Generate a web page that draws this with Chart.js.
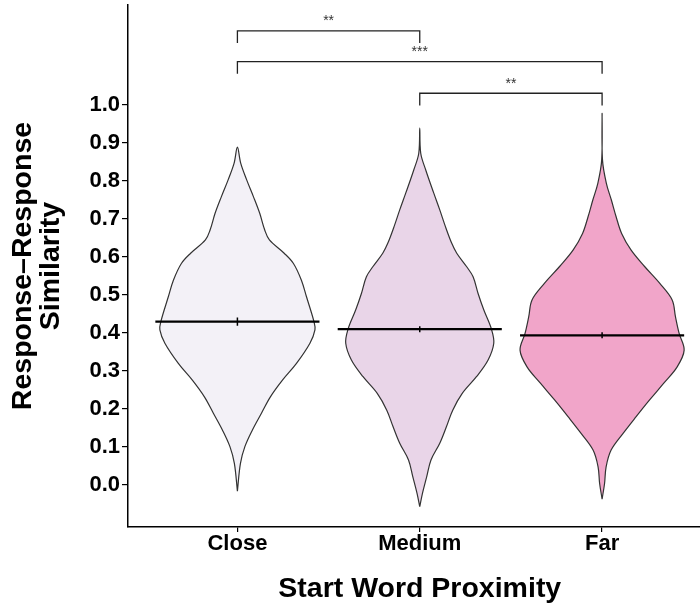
<!DOCTYPE html>
<html>
<head>
<meta charset="utf-8">
<script src="https://cdn.jsdelivr.net/npm/chart.js@4/dist/chart.umd.min.js"></script>
<style>
  html, body { margin: 0; padding: 0; background: #fff; }
  #wrap { width: 700px; height: 604px; }
</style>
</head>
<body>
<div id="wrap"><canvas id="chart" width="700" height="604"></canvas></div>
<script>
// Groups on the x axis
const categories = ['Close', 'Medium', 'Far'];

// Group means and their standard errors
const meanSimilarity = [0.430, 0.410, 0.394];
const meanSE = [0.011, 0.008, 0.008];

// y-axis tick values
const yTicks = [0.0, 0.1, 0.2, 0.3, 0.4, 0.5, 0.6, 0.7, 0.8, 0.9, 1.0];

// Kernel density outlines (similarity value -> relative density), top to bottom
const closeY = [0.889, 0.847, 0.803, 0.759, 0.715, 0.671, 0.645, 0.610, 0.583, 0.539, 0.496, 0.430, 0.408, 0.373, 0.320, 0.276, 0.232, 0.189, 0.145, 0.101, 0.057, -0.016];
const closeDensity = [0, 0.04, 0.113, 0.195, 0.272, 0.333, 0.39, 0.57, 0.683, 0.78, 0.841, 0.933, 0.945, 0.884, 0.72, 0.549, 0.402, 0.293, 0.183, 0.091, 0.037, 0];

const mediumY = [0.939, 0.873, 0.829, 0.768, 0.724, 0.680, 0.636, 0.610, 0.575, 0.548, 0.504, 0.461, 0.410, 0.373, 0.329, 0.285, 0.241, 0.197, 0.154, 0.110, 0.066, 0.022, -0.022, -0.057];
const mediumDensity = [0, 0.012, 0.073, 0.171, 0.244, 0.313, 0.39, 0.451, 0.57, 0.65, 0.711, 0.78, 0.874, 0.902, 0.833, 0.691, 0.518, 0.402, 0.326, 0.244, 0.137, 0.085, 0.033, 0];

const farY = [0.978, 0.855, 0.794, 0.750, 0.706, 0.662, 0.618, 0.575, 0.531, 0.487, 0.443, 0.399, 0.355, 0.311, 0.268, 0.224, 0.180, 0.136, 0.092, 0.048, 0.004, -0.037];
const farDensity = [0, 0.005, 0.052, 0.113, 0.171, 0.238, 0.354, 0.518, 0.701, 0.854, 0.894, 0.939, 1.0, 0.915, 0.752, 0.579, 0.415, 0.256, 0.11, 0.049, 0.03, 0];

// Pairwise significance brackets: group indices (1-based), bracket height, label
const bracketPairs = [[1, 2], [1, 3], [2, 3]];
const bracketTop = [1.195, 1.114, 1.031];
const bracketLabels = ['**', '***', '**'];

const FONT = "'Liberation Sans', Arial, Helvetica, sans-serif";
const HALF_WIDTH = 0.45;      // half of the widest violin, in category units
const LEG = 0.032;            // bracket leg length, in y units
const fills = ['#F3F1F7', '#E9D5E8', '#F1A5C9'];

// Plot panel edges in canvas pixels (the panel runs slightly past the right edge)
const PANEL_TOP = 5;
const PANEL_RIGHT = 711.5;

// Closed outline: right side bottom -> top, then left side top -> bottom
function violinOutline(center, ys, dens) {
  const right = ys.map((y, i) => ({ x: center + dens[i] * HALF_WIDTH, y })).reverse();
  const left = ys.map((y, i) => ({ x: center - dens[i] * HALF_WIDTH, y }));
  return right.concat(left.slice(1));
}

const violinData = [
  [closeY, closeDensity],
  [mediumY, mediumDensity],
  [farY, farDensity]
];

const datasets = [];

violinData.forEach(([ys, dens], i) => {
  datasets.push({
    data: violinOutline(i + 1, ys, dens),
    borderColor: '#333333',
    borderWidth: 1.2,
    backgroundColor: fills[i],
    fill: 'shape',
    tension: 0.35,
    pointRadius: 0,
    order: 3
  });
});

meanSimilarity.forEach((m, i) => {
  const c = i + 1;
  datasets.push({
    data: [{ x: c - HALF_WIDTH, y: m }, { x: c + HALF_WIDTH, y: m }],
    borderColor: '#000',
    borderWidth: 2.2,
    pointRadius: 0,
    fill: false,
    order: 1
  });
  datasets.push({
    data: [{ x: c, y: m - meanSE[i] }, { x: c, y: m + meanSE[i] }],
    borderColor: '#000',
    borderWidth: 1.5,
    pointRadius: 0,
    fill: false,
    order: 0
  });
});

bracketPairs.forEach(([a, b], i) => {
  const top = bracketTop[i];
  datasets.push({
    data: [{ x: a, y: top - LEG }, { x: a, y: top }, { x: b, y: top }, { x: b, y: top - LEG }],
    borderColor: '#222',
    borderWidth: 1.3,
    pointRadius: 0,
    fill: false,
    tension: 0,
    order: 1
  });
});

// Stretch the panel to its fixed edges once the layout is known
const panelEdges = {
  id: 'panelEdges',
  afterLayout(chart) {
    const area = chart.chartArea;
    const { x, y } = chart.scales;
    area.top = PANEL_TOP;
    area.right = PANEL_RIGHT;
    area.width = area.right - area.left;
    area.height = area.bottom - area.top;
    x.right = PANEL_RIGHT;
    x.width = x.right - x.left;
    y.top = PANEL_TOP;
    y.height = y.bottom - y.top;
    x.configure();
    y.configure();
  }
};

// Significance stars above each bracket
const starLabels = {
  id: 'starLabels',
  afterDatasetsDraw(chart) {
    const { ctx, scales: { x, y } } = chart;
    ctx.save();
    ctx.font = `14px ${FONT}`;
    ctx.fillStyle = '#333';
    ctx.textAlign = 'center';
    ctx.textBaseline = 'alphabetic';
    bracketPairs.forEach(([a, b], i) => {
      const px = x.getPixelForValue((a + b) / 2);
      const py = y.getPixelForValue(bracketTop[i]) - 5.5;
      ctx.fillText(bracketLabels[i], px, py);
    });
    ctx.restore();
  }
};

new Chart(document.getElementById('chart'), {
  type: 'line',
  data: { datasets },
  plugins: [panelEdges, starLabels],
  options: {
    responsive: false,
    animation: false,
    devicePixelRatio: 1,
    layout: { padding: 0 },
    plugins: { legend: { display: false }, tooltip: { enabled: false } },
    scales: {
      x: {
        type: 'linear',
        min: 0.4,
        max: 3.6,
        afterBuildTicks: s => { s.ticks = categories.map((_, i) => ({ value: i + 1 })); },
        afterFit: s => { s.height = 77; },
        ticks: {
          callback: v => categories[Math.round(v) - 1] ?? '',
          font: { family: FONT, size: 22, weight: 'bold', lineHeight: 1 },
          color: '#000',
          padding: 1,
          maxRotation: 0,
          autoSkip: false
        },
        grid: { drawOnChartArea: false, drawTicks: true, tickLength: 5, color: '#000', lineWidth: 1.2 },
        border: { display: true, color: '#000', width: 1.5 },
        title: {
          display: true,
          text: 'Start Word Proximity',
          font: { family: FONT, size: 28.5, weight: 'bold', lineHeight: 1 },
          color: '#000',
          padding: { top: 0, bottom: 1 }
        }
      },
      y: {
        type: 'linear',
        min: -0.1105,
        max: 1.2632,
        afterBuildTicks: s => { s.ticks = yTicks.map(v => ({ value: v })); },
        afterFit: s => { s.width = 128; },
        ticks: {
          callback: v => Number(v).toFixed(1),
          font: { family: FONT, size: 22, weight: 'bold', lineHeight: 1 },
          color: '#000',
          padding: 2
        },
        grid: { drawOnChartArea: false, drawTicks: true, tickLength: 6, color: '#000', lineWidth: 1.2 },
        border: { display: true, color: '#000', width: 1.5 },
        title: {
          display: true,
          text: ['Response–Response', 'Similarity'],
          font: { family: FONT, size: 28.5, weight: 'bold', lineHeight: 1 },
          color: '#000',
          padding: { top: 8.5, bottom: 0 }
        }
      }
    }
  }
});
</script>
</body>
</html>
